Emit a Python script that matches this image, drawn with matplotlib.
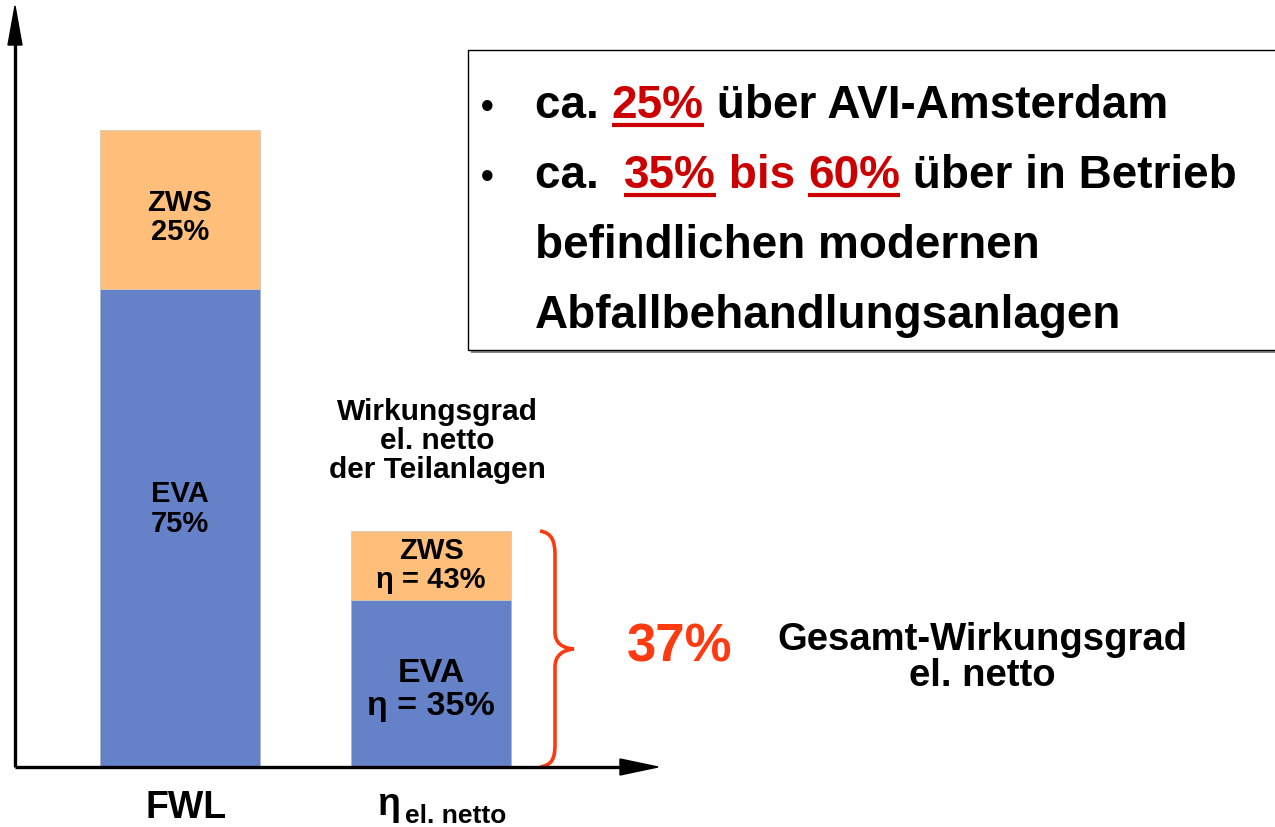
import numpy as np
import matplotlib.pyplot as plt
from matplotlib.patches import Rectangle, Polygon, PathPatch
from matplotlib.path import Path
from matplotlib.transforms import Affine2D

plt.rcParams['font.family'] = ['Liberation Sans', 'DejaVu Sans']
plt.rcParams['font.weight'] = 'bold'

W, H = 1275, 827

# Data (share of FWL and resulting electric efficiency)
categories = ['FWL', 'η el. netto']
eva_part = [75, 26.25]
zws_part = [25, 10.75]
eva_labels = ['EVA\n75%', 'EVA\nη = 35%']
zws_labels = ['ZWS\n25%', 'ZWS\nη = 43%']
total_label = '37%'

# colours
blue = '#6582C9'
orange = '#FFBE7A'
red = '#CC0000'
brace_red = '#FF3A10'

fig = plt.figure(figsize=(W / 100, H / 100), dpi=100)
ax = fig.add_axes([0, 0, 1, 1])
ax.set_axis_off()
ax.set_xlim(-180 / 251, (W - 180) / 251)
ax.set_ylim(-60 / 6.37, 767 / 6.37)

# pixel coordinates, origin top left
px = Affine2D().scale(1 / W, -1 / H).translate(0, 1) + fig.transFigure

# stacked bars
x = np.arange(len(categories))
ax.bar(x, eva_part, width=0.64, color=blue, edgecolor='#b0b4c8', lw=0.6, zorder=2)
ax.bar(x, zws_part, bottom=eva_part, width=0.64, color=orange,
       edgecolor='#d8c8b8', lw=0.6, zorder=2)

# label placement inside the segments (fraction of segment height)
eva_frac = [0.54, 0.46]
zws_frac = [0.45, 0.5]
eva_size = [21, 24.5]
for i in range(len(x)):
    ax.text(x[i], eva_part[i] * eva_frac[i], eva_labels[i], ha='center', va='center',
            fontsize=eva_size[i], linespacing=1.08, zorder=3)
    ax.text(x[i], eva_part[i] + zws_part[i] * zws_frac[i], zws_labels[i], ha='center',
            va='center', fontsize=21, linespacing=1.08, zorder=3)

# axes with arrow heads
ax.plot([15, 15], [767, 30], color='black', lw=2.4, transform=px, solid_capstyle='butt')
ax.plot([15, 630], [767, 767], color='black', lw=2.4, transform=px, solid_capstyle='butt')
ax.add_patch(Polygon([[15, 6], [8, 45], [22, 45]], closed=True, color='black', transform=px))
ax.add_patch(Polygon([[658, 767], [620, 759], [620, 775]], closed=True, color='black', transform=px))

# category labels under the axis
ax.text(186, 808, categories[0], ha='center', va='center', fontsize=27, transform=px)
ax.text(377, 815, 'η', ha='left', va='baseline', fontsize=27, transform=px)
ax.text(405, 823, 'el. netto', ha='left', va='baseline', fontsize=19, transform=px)

ax.text(437, 441, 'Wirkungsgrad\nel. netto\nder Teilanlagen', ha='center', va='center',
        fontsize=21.5, linespacing=1.04, transform=px)

# curly brace
verts = [(540, 531), (552, 533), (555, 541), (555, 556),
         (555, 632),
         (555, 643), (562, 648), (574, 649),
         (562, 650), (555, 656), (555, 667),
         (555, 744),
         (555, 759), (552, 765), (540, 767)]
codes = [Path.MOVETO, Path.CURVE4, Path.CURVE4, Path.CURVE4,
         Path.LINETO,
         Path.CURVE4, Path.CURVE4, Path.CURVE4,
         Path.CURVE4, Path.CURVE4, Path.CURVE4,
         Path.LINETO,
         Path.CURVE4, Path.CURVE4, Path.CURVE4]
ax.add_patch(PathPatch(Path(verts, codes), fill=False, edgecolor=brace_red, lw=2.6,
                       transform=px))

ax.text(680, 648, total_label, ha='center', va='center', fontsize=38, color=brace_red,
        transform=px)
ax.text(982, 658, 'Gesamt-Wirkungsgrad\nel. netto', ha='center', va='center',
        fontsize=27.5, linespacing=1.02, transform=px)

# text box top right
ax.add_patch(Rectangle((471, 53), 820, 300, facecolor='#888888', edgecolor='none',
                       transform=px, zorder=1))
ax.add_patch(Rectangle((468, 50), 820, 300, facecolor='white', edgecolor='black', lw=1.0,
                       transform=px, zorder=1))

renderer = fig.canvas.get_renderer()


def run_width(s, size):
    t1 = ax.text(0, 0, '|' + s + '|', fontsize=size, transform=px)
    t2 = ax.text(0, 0, '||', fontsize=size, transform=px)
    w = t1.get_window_extent(renderer).width - t2.get_window_extent(renderer).width
    t1.remove()
    t2.remove()
    return w


def draw_runs(x0, y, runs, size=33):
    xc = x0
    for s, col, ul in runs:
        ax.text(xc, y, s, ha='left', va='baseline', fontsize=size, color=col,
                transform=px, zorder=3)
        w = run_width(s, size)
        if ul:
            ax.plot([xc, xc + w], [y + 7, y + 7], color=col, lw=3, transform=px,
                    solid_capstyle='butt', zorder=3)
        xc += w


bullet_x = 481
text_x = 535
ax.text(bullet_x, 118, '•', fontsize=26, transform=px, va='baseline', zorder=3)
ax.text(bullet_x, 188, '•', fontsize=26, transform=px, va='baseline', zorder=3)
draw_runs(text_x, 118, [('ca. ', 'black', False), ('25%', red, True),
                        (' über AVI-Amsterdam', 'black', False)])
draw_runs(text_x, 188, [('ca.  ', 'black', False), ('35%', red, True),
                        (' bis ', red, False), ('60%', red, True),
                        (' über in Betrieb', 'black', False)])
draw_runs(text_x, 258, [('befindlichen modernen', 'black', False)])
draw_runs(text_x, 328, [('Abfallbehandlungsanlagen', 'black', False)])

fig.savefig('out.png', dpi=100)
